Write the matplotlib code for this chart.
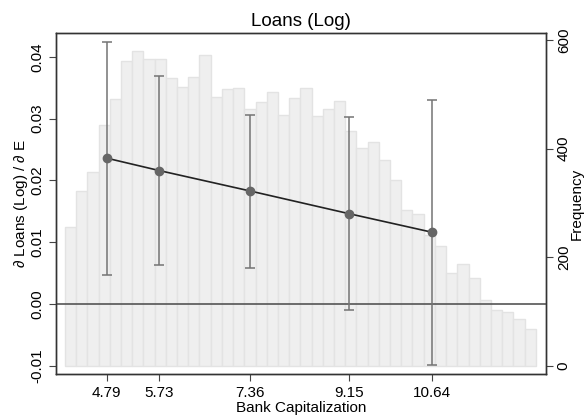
import numpy as np
import matplotlib
matplotlib.use("Agg")
import matplotlib.pyplot as plt

plt.rcParams['font.family'] = ['Liberation Sans', 'DejaVu Sans']
plt.rcParams['mathtext.fontset'] = 'custom'
plt.rcParams['mathtext.it'] = 'Liberation Sans:italic'
plt.rcParams['mathtext.rm'] = 'Liberation Sans'

# Puntos de evaluación (capitalización bancaria) y efecto marginal
cap_vals = [4.79, 5.73, 7.36, 9.15, 10.64]
efecto = [0.0236, 0.0216, 0.0183, 0.0146, 0.0116]
ic_inf = [0.0047, 0.0063, 0.0059, -0.0009, -0.0098]
ic_sup = [0.0424, 0.0369, 0.0306, 0.0302, 0.0330]

# Histograma de la capitalización (frecuencias por intervalo)
hist_inicio = 4.04
hist_ancho = 0.2014
frecuencias = [256, 322, 356, 444, 491, 562, 579, 565, 565, 531, 514,
               532, 573, 495, 510, 511, 473, 486, 504, 462, 493, 511,
               460, 473, 488, 433, 402, 412, 379, 342, 286, 280, 241,
               221, 170, 187, 161, 121, 102, 99, 86, 68]

fig = plt.figure(figsize=(5.87, 4.2), dpi=100)
ax = fig.add_axes([0.0954, 0.1095, 0.8343, 0.8119])
ax2 = ax.twinx()

# Histograma en el eje derecho (detrás)
bordes = hist_inicio + hist_ancho * np.arange(len(frecuencias))
ax2.bar(bordes, frecuencias, width=hist_ancho, align='edge',
        color='#efefef', edgecolor='#e3e3e3', linewidth=1.0)
ax2.set_ylim(-15.3, 613)
ax2.set_yticks([0, 200, 400, 600])
ax2.set_ylabel('Frequency', fontsize=11, labelpad=-1)

ax.set_zorder(ax2.get_zorder() + 1)
ax.patch.set_visible(False)

# Línea cero
ax.axhline(0, color='#555555', linewidth=1.2, zorder=1)

# Efectos marginales con intervalos
err = [np.array(efecto) - np.array(ic_inf), np.array(ic_sup) - np.array(efecto)]
ax.errorbar(cap_vals, efecto, yerr=err, fmt='none', ecolor='#747474',
            elinewidth=1.1, capsize=3.5, capthick=1.1, zorder=2)
ax.plot(cap_vals, efecto, color='#222222', linewidth=1.2, zorder=3)
ax.plot(cap_vals, efecto, 'o', color='#666666', markersize=6, zorder=4)

ax.set_xlim(3.879, 12.677)
ax.set_ylim(-0.01133, 0.04385)
ax.set_xticks(cap_vals)
ax.set_xticklabels(['4.79', '5.73', '7.36', '9.15', '10.64'])
ax.set_yticks([-0.01, 0.0, 0.01, 0.02, 0.03, 0.04])
ax.set_yticklabels(['-0.01', '0.00', '0.01', '0.02', '0.03', '0.04'])

ax.set_title('Loans (Log)', fontsize=13.5, pad=5)
ax.set_xlabel('Bank Capitalization', fontsize=11, labelpad=1)
ax.set_ylabel(r'$\it{\partial}$ Loans (Log) / $\it{\partial}$ E', fontsize=11, labelpad=0)

for a in (ax, ax2):
    a.tick_params(labelsize=11, length=5, width=0.8, color='#444444')
    for s in a.spines.values():
        s.set_color('#333333')
        s.set_linewidth(1.0)
ax2.tick_params(pad=3)
for lab in ax.get_yticklabels():
    lab.set_rotation(90)
    lab.set_va('center')
for lab in ax2.get_yticklabels():
    lab.set_rotation(90)
    lab.set_va('center')

fig.savefig('out.png', dpi=100)
